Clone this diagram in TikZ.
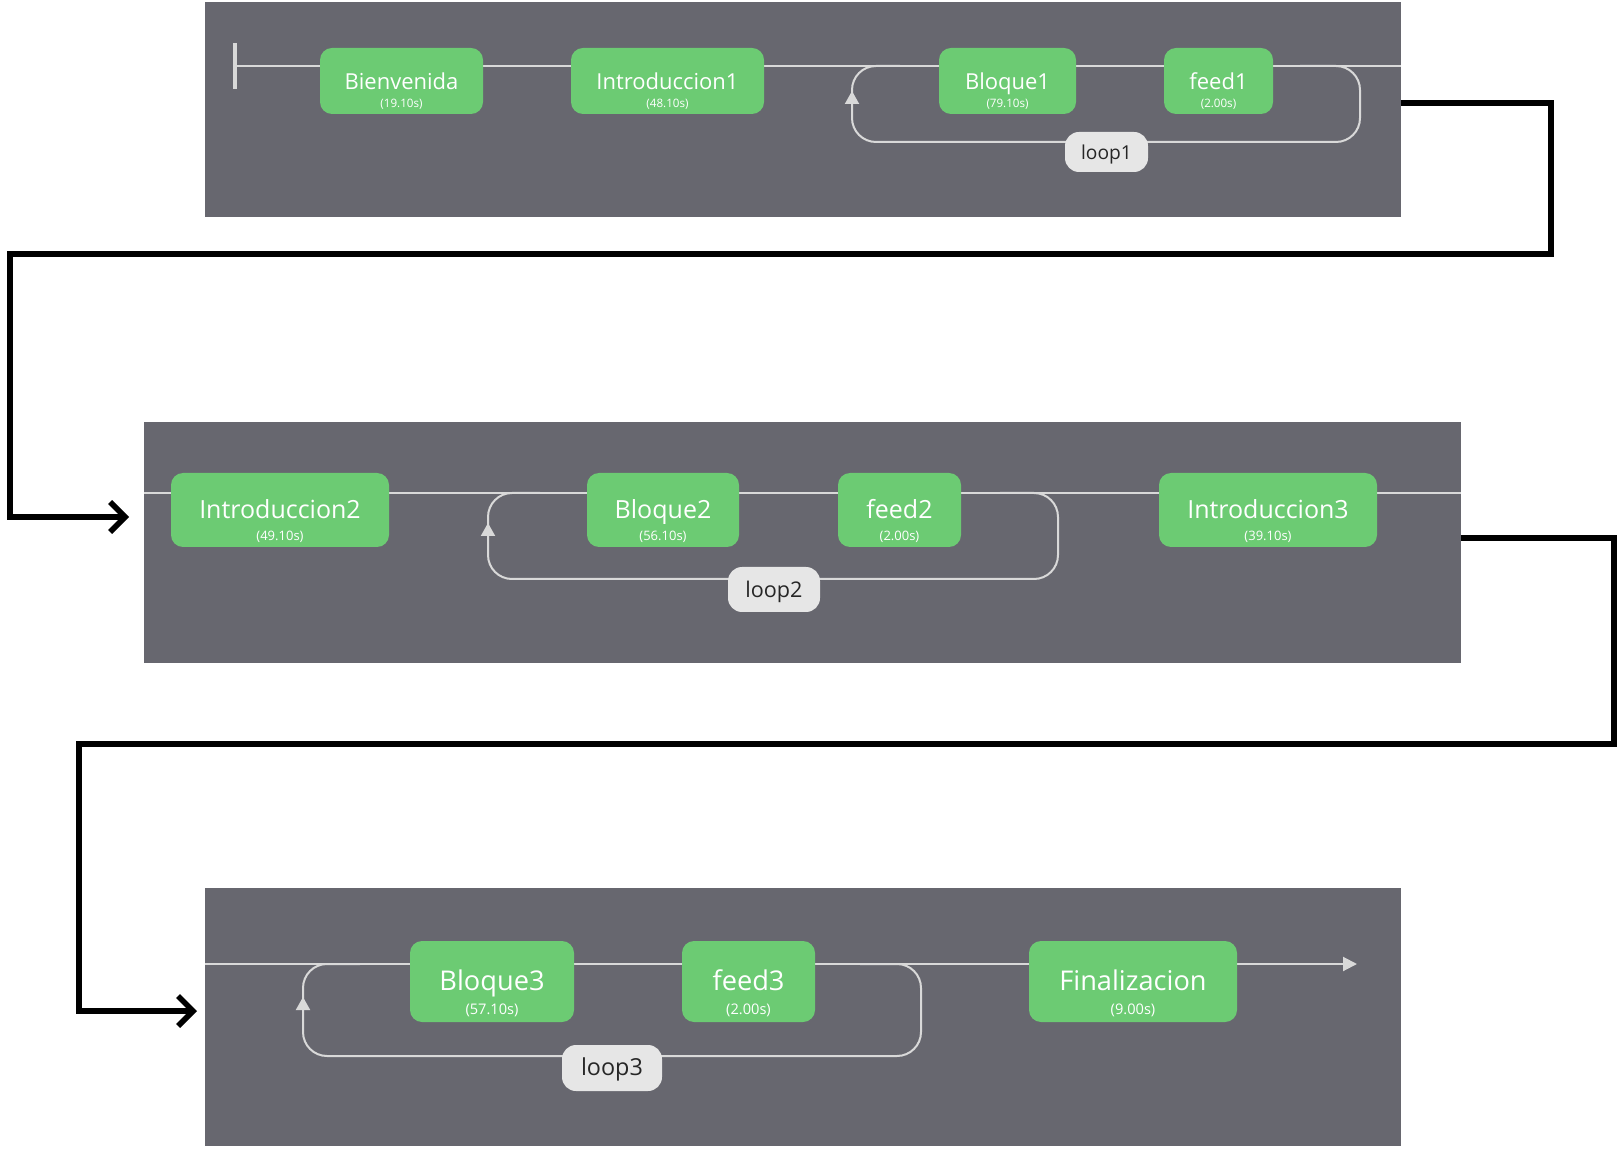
\documentclass[tikz,border=0pt]{standalone}
\usepackage{fontspec}
\setmainfont{Open Sans}
\usetikzlibrary{arrows.meta}
\definecolor{panelgray}{HTML}{67676F}
\definecolor{boxgreen}{HTML}{6CCB73}
\definecolor{flowline}{HTML}{D9D9D9}
\definecolor{loopfill}{HTML}{E6E6E6}
\begin{document}
\begin{tikzpicture}[x=0.5pt,y=-0.5pt,
  box/.style={fill=boxgreen, rounded corners=6pt, inner sep=0pt, text=white, text height=0.88em, text depth=0pt},
  nameA/.style={font=\fontsize{11}{12}\selectfont},
  nameB/.style={font=\fontsize{12.5}{14}\selectfont},
  nameC/.style={font=\fontsize{13.6}{15}\selectfont},
  subA/.style={text=white, inner sep=0pt, font=\fontsize{5.8}{6}\selectfont},
  subB/.style={text=white, inner sep=0pt, font=\fontsize{6.5}{7}\selectfont},
  subC/.style={text=white, inner sep=0pt, font=\fontsize{7.3}{8}\selectfont},
  flow/.style={draw=flowline, line width=1pt},
  loopline/.style={flow, rounded corners=12pt},
  looptip/.style={flow, -{Triangle[width=7pt,length=6.5pt]}},
  looptag/.style={fill=loopfill, rounded corners=7pt, inner sep=0pt, text=black!85, text height=0.75em, text depth=0pt},
  jump/.style={draw=black, line width=2.6pt, line join=miter, -{Straight Barb[length=7.5pt,width=15pt,line width=2.8pt]}}
]
\useasboundingbox (0,0) rectangle (1622,1149);

% panels
\fill[panelgray] (205,2) rectangle (1401,217);
\fill[panelgray] (144,422) rectangle (1461,663);
\fill[panelgray] (205,888) rectangle (1401,1146);

% ---------- panel 1 ----------
\coordinate (s1) at (235,66);
\coordinate (e1) at (1401,66);
\coordinate (bartop) at (235,43);
\coordinate (barbot) at (235,89);
\draw[flow, line width=2pt] (bartop) -- (barbot);
\draw[flow] (s1) -- (e1);
\coordinate (l1a) at (1300,66);
\coordinate (l1b) at (1360,66);
\coordinate (l1c) at (1360,142);
\coordinate (l1d) at (852,142);
\coordinate (l1t) at (852,91);
\coordinate (l1e) at (852,66);
\coordinate (l1f) at (900,66);
\draw[loopline] (l1a) -- (l1b) -- (l1c) -- (l1d) -- (l1t);
\draw[looptip] (852,110) -- (l1t);
\draw[loopline] (l1t) -- (l1e) -- (l1f);

\node[box, nameA, minimum width=81.5pt, minimum height=33pt] (bien) at (401.5,81) {Bienvenida};
\node[subA] (bient) at (401.5,104) {(19.10s)};
\node[box, nameA, minimum width=96.5pt, minimum height=33pt] (intro1) at (667.5,81) {Introduccion1};
\node[subA] (intro1t) at (667.5,104) {(48.10s)};
\node[box, nameA, minimum width=68.5pt, minimum height=33pt] (bloq1) at (1007.5,81) {Bloque1};
\node[subA] (bloq1t) at (1007.5,104) {(79.10s)};
\node[box, nameA, minimum width=54.5pt, minimum height=33pt] (feed1) at (1218.5,81) {feed1};
\node[subA] (feed1t) at (1218.5,104) {(2.00s)};
\node[looptag, font=\fontsize{9.6}{10}\selectfont, minimum width=41.5pt, minimum height=20pt] (loop1) at (1106.5,152) {loop1};

% ---------- panel 2 ----------
\coordinate (s2) at (144,493);
\coordinate (e2) at (1461,493);
\draw[flow] (s2) -- (e2);
\coordinate (l2a) at (1000,493);
\coordinate (l2b) at (1058,493);
\coordinate (l2c) at (1058,579);
\coordinate (l2d) at (488,579);
\coordinate (l2t) at (488,523);
\coordinate (l2e) at (488,493);
\coordinate (l2f) at (540,493);
\draw[loopline] (l2a) -- (l2b) -- (l2c) -- (l2d) -- (l2t);
\draw[looptip] (488,545) -- (l2t);
\draw[loopline] (l2t) -- (l2e) -- (l2f);

\node[box, nameB, minimum width=109pt, minimum height=37pt] (intro2) at (280,510) {Introduccion2};
\node[subB] (intro2t) at (280,537) {(49.10s)};
\node[box, nameB, minimum width=76pt, minimum height=37pt] (bloq2) at (663,510) {Bloque2};
\node[subB] (bloq2t) at (663,537) {(56.10s)};
\node[box, nameB, minimum width=61.5pt, minimum height=37pt] (feed2) at (899.5,510) {feed2};
\node[subB] (feed2t) at (899.5,537) {(2.00s)};
\node[box, nameB, minimum width=109pt, minimum height=37pt] (intro3) at (1268,510) {Introduccion3};
\node[subB] (intro3t) at (1268,537) {(39.10s)};
\node[looptag, font=\fontsize{10.8}{11}\selectfont, minimum width=46pt, minimum height=22.5pt] (loop2) at (774,589.5) {loop2};

% ---------- panel 3 ----------
\coordinate (s3) at (205,964);
\coordinate (e3) at (1357,964);
\draw[flow, -{Triangle[width=7pt,length=7pt]}] (s3) -- (e3);
\coordinate (l3a) at (860,964);
\coordinate (l3b) at (921,964);
\coordinate (l3c) at (921,1056);
\coordinate (l3d) at (303,1056);
\coordinate (l3t) at (303,997);
\coordinate (l3e) at (303,964);
\coordinate (l3f) at (360,964);
\draw[loopline] (l3a) -- (l3b) -- (l3c) -- (l3d) -- (l3t);
\draw[looptip] (303,1020) -- (l3t);
\draw[loopline] (l3t) -- (l3e) -- (l3f);

\node[box, nameC, minimum width=82pt, minimum height=40.5pt] (bloq3) at (492,981.5) {Bloque3};
\node[subC] (bloq3t) at (492,1010) {(57.10s)};
\node[box, nameC, minimum width=66.5pt, minimum height=40.5pt] (feed3) at (748.5,981.5) {feed3};
\node[subC] (feed3t) at (748.5,1010) {(2.00s)};
\node[box, nameC, minimum width=104pt, minimum height=40.5pt] (fin) at (1133,981.5) {Finalizacion};
\node[subC] (fint) at (1133,1010) {(9.00s)};
\node[looptag, font=\fontsize{11.7}{12}\selectfont, minimum width=50pt, minimum height=23pt] (loop3) at (612,1068) {loop3};

% ---------- black connectors ----------
\coordinate (j1a) at (1401,103);
\coordinate (j1b) at (1551,103);
\coordinate (j1c) at (1551,254);
\coordinate (j1d) at (10,254);
\coordinate (j1e) at (10,517);
\coordinate (j1f) at (129,517);
\draw[jump] (j1a) -- (j1b) -- (j1c) -- (j1d) -- (j1e) -- (j1f);

\coordinate (j2a) at (1461,538);
\coordinate (j2b) at (1614,538);
\coordinate (j2c) at (1614,744);
\coordinate (j2d) at (79,744);
\coordinate (j2e) at (79,1011);
\coordinate (j2f) at (197,1011);
\draw[jump] (j2a) -- (j2b) -- (j2c) -- (j2d) -- (j2e) -- (j2f);
\end{tikzpicture}
\end{document}
